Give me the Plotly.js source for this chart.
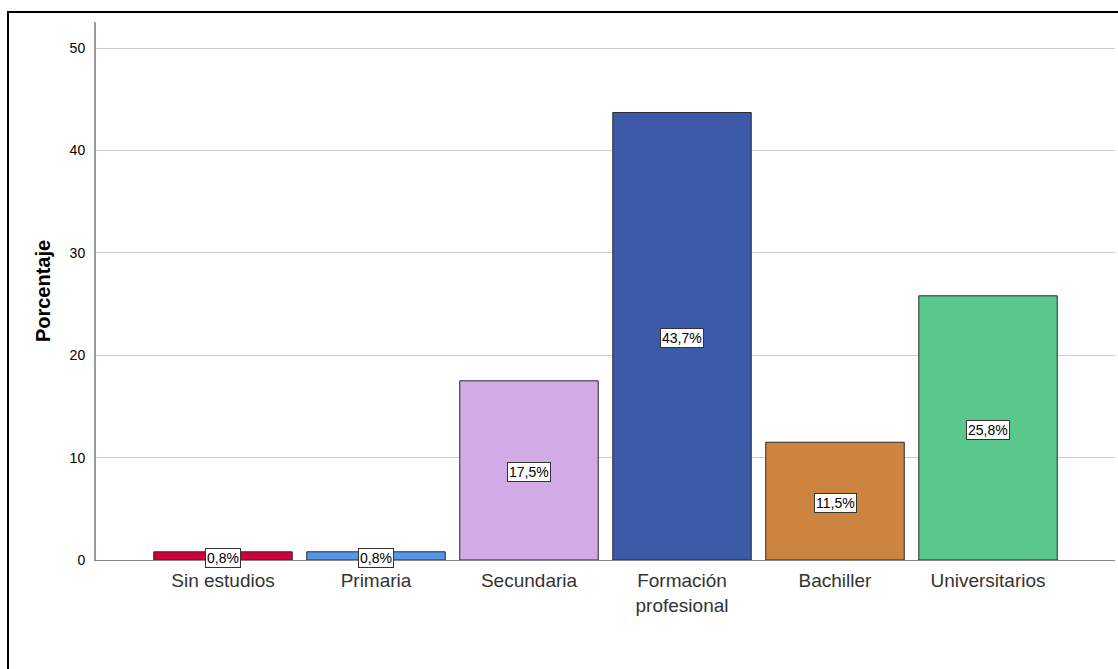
<!DOCTYPE html>
<html>
<head>
<meta charset="utf-8">
<script src="https://cdn.plot.ly/plotly-3.0.1.min.js"></script>
<style>
  html, body { margin: 0; padding: 0; background: #fff; overflow: hidden; }
  #chart { width: 1118px; height: 669px; }
  #frame { position: absolute; left: 7px; top: 11px; width: 1200px; height: 800px;
           border: 2px solid #000; pointer-events: none; box-sizing: border-box; }
</style>
</head>
<body>
<div id="chart"></div>
<div id="frame"></div>
<script>
const categories = ["Sin estudios", "Primaria", "Secundaria", "Formación<br>profesional", "Bachiller", "Universitarios"];
const values = [0.8, 0.8, 17.5, 43.7, 11.5, 25.8];
const labels = ["0,8%", "0,8%", "17,5%", "43,7%", "11,5%", "25,8%"];
const colors = ["#d2003a", "#5596e6", "#d2aae6", "#3c5aa8", "#cc843e", "#5ac88c"];

const idx = categories.map((_, i) => i);
const FONT = "Arial, Liberation Sans, sans-serif";

const trace = {
  type: "bar",
  x: idx,
  y: values,
  width: 0.905,
  marker: { color: colors, line: { color: "#2a2a2a", width: 1 } },
  hoverinfo: "none"
};

const annotations = idx.map(i => ({
  x: i, y: values[i] / 2, xref: "x", yref: "y", yshift: -2,
  text: labels[i], showarrow: false,
  font: { family: FONT, size: 14, color: "#000" },
  bgcolor: "#fff", bordercolor: "#333", borderwidth: 1, borderpad: 1
}));

const layout = {
  width: 1118, height: 669,
  margin: { l: 96, r: 3, t: 22, b: 109 },
  paper_bgcolor: "#fff", plot_bgcolor: "#fff",
  showlegend: false,
  bargap: 0,
  xaxis: {
    range: [-0.83, 5.83],
    tickvals: idx, ticktext: categories,
    ticks: "", showgrid: false, zeroline: false,
    showline: true, linecolor: "#888", linewidth: 1,
    tickfont: { family: FONT, size: 19, color: "#333" },
    ticklabelstandoff: 3
  },
  yaxis: {
    range: [0, 52.54],
    tickvals: [0, 10, 20, 30, 40, 50],
    ticks: "", showgrid: true, gridcolor: "#cccccc", gridwidth: 1,
    zeroline: false, showline: true, linecolor: "#999", linewidth: 2,
    tickfont: { family: FONT, size: 14, color: "#000" },
    ticklabelstandoff: 6,
    title: { text: "<b>Porcentaje</b>", font: { family: FONT, size: 20, color: "#000" }, standoff: 14 }
  },
  annotations: annotations
};

Plotly.newPlot("chart", [trace], layout, { displayModeBar: false, staticPlot: true });
</script>
</body>
</html>
